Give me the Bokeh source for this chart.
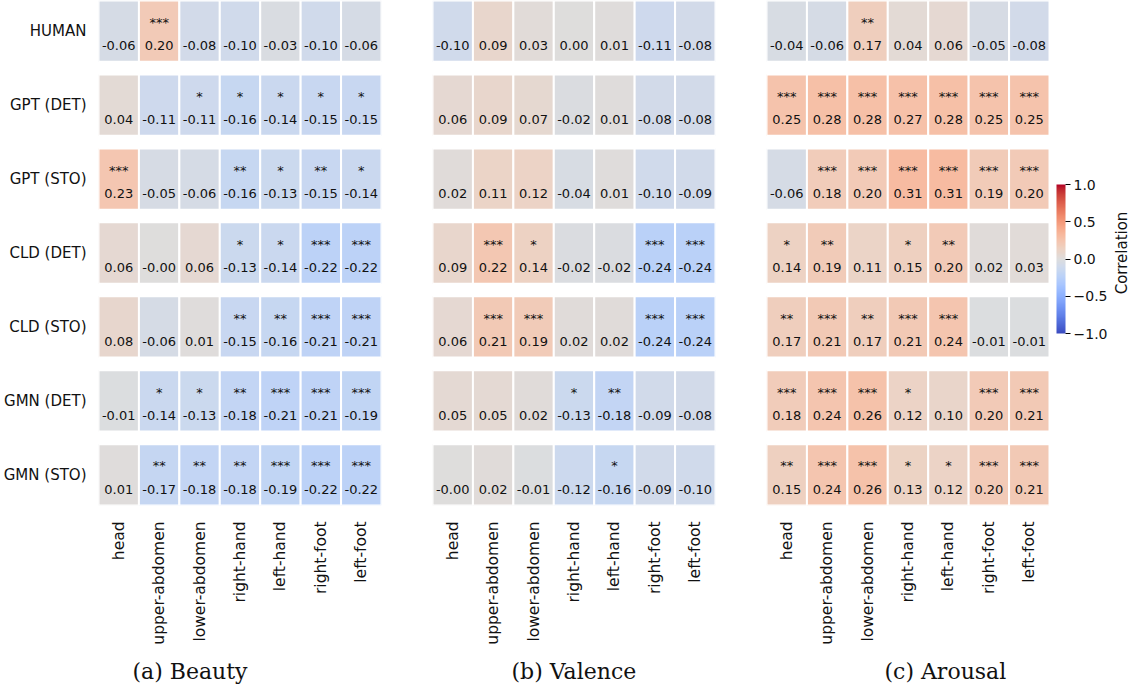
import numpy as np
from math import pi
from bokeh.plotting import figure
from bokeh.models import (FactorRange, LinearColorMapper, ColorBar, FixedTicker,
                          ColumnDataSource, Title, Range1d)
from bokeh.transform import dodge
from bokeh.layouts import row
from bokeh.embed import file_html
from bokeh.resources import INLINE

rows = ["HUMAN", "GPT (DET)", "GPT (STO)", "CLD (DET)", "CLD (STO)", "GMN (DET)", "GMN (STO)"]
cols = ["head", "upper-abdomen", "lower-abdomen", "right-hand", "left-hand", "right-foot", "left-foot"]

beauty = [
    [-0.06, 0.20, -0.08, -0.10, -0.03, -0.10, -0.06],
    [0.04, -0.11, -0.11, -0.16, -0.14, -0.15, -0.15],
    [0.23, -0.05, -0.06, -0.16, -0.13, -0.15, -0.14],
    [0.06, -0.0, 0.06, -0.13, -0.14, -0.22, -0.22],
    [0.08, -0.06, 0.01, -0.15, -0.16, -0.21, -0.21],
    [-0.01, -0.14, -0.13, -0.18, -0.21, -0.21, -0.19],
    [0.01, -0.17, -0.18, -0.18, -0.19, -0.22, -0.22],
]
beauty_sig = [
    ["", "***", "", "", "", "", ""],
    ["", "", "*", "*", "*", "*", "*"],
    ["***", "", "", "**", "*", "**", "*"],
    ["", "", "", "*", "*", "***", "***"],
    ["", "", "", "**", "**", "***", "***"],
    ["", "*", "*", "**", "***", "***", "***"],
    ["", "**", "**", "**", "***", "***", "***"],
]
valence = [
    [-0.10, 0.09, 0.03, 0.00, 0.01, -0.11, -0.08],
    [0.06, 0.09, 0.07, -0.02, 0.01, -0.08, -0.08],
    [0.02, 0.11, 0.12, -0.04, 0.01, -0.10, -0.09],
    [0.09, 0.22, 0.14, -0.02, -0.02, -0.24, -0.24],
    [0.06, 0.21, 0.19, 0.02, 0.02, -0.24, -0.24],
    [0.05, 0.05, 0.02, -0.13, -0.18, -0.09, -0.08],
    [-0.0, 0.02, -0.01, -0.12, -0.16, -0.09, -0.10],
]
valence_sig = [
    ["", "", "", "", "", "", ""],
    ["", "", "", "", "", "", ""],
    ["", "", "", "", "", "", ""],
    ["", "***", "*", "", "", "***", "***"],
    ["", "***", "***", "", "", "***", "***"],
    ["", "", "", "*", "**", "", ""],
    ["", "", "", "", "*", "", ""],
]
arousal = [
    [-0.04, -0.06, 0.17, 0.04, 0.06, -0.05, -0.08],
    [0.25, 0.28, 0.28, 0.27, 0.28, 0.25, 0.25],
    [-0.06, 0.18, 0.20, 0.31, 0.31, 0.19, 0.20],
    [0.14, 0.19, 0.11, 0.15, 0.20, 0.02, 0.03],
    [0.17, 0.21, 0.17, 0.21, 0.24, -0.01, -0.01],
    [0.18, 0.24, 0.26, 0.12, 0.10, 0.20, 0.21],
    [0.15, 0.24, 0.26, 0.13, 0.12, 0.20, 0.21],
]
arousal_sig = [
    ["", "", "**", "", "", "", ""],
    ["***", "***", "***", "***", "***", "***", "***"],
    ["", "***", "***", "***", "***", "***", "***"],
    ["*", "**", "", "*", "**", "", ""],
    ["**", "***", "**", "***", "***", "", ""],
    ["***", "***", "***", "*", "", "***", "***"],
    ["**", "***", "***", "*", "*", "***", "***"],
]
captions = ["(a) Beauty", "(b) Valence", "(c) Arousal"]
cbar_title = "Correlation"
cbar_ticks = [-1.0, -0.5, 0.0, 0.5, 1.0]
cbar_labels = ["\u22121.0", "\u22120.5", "0.0", "0.5", "1.0"]

# coolwarm (Moreland) reference colours
CW = [(59, 76, 192), (68, 90, 204), (77, 104, 215), (87, 117, 225), (98, 130, 234),
      (108, 142, 241), (119, 154, 247), (130, 165, 251), (141, 176, 254), (152, 185, 255),
      (163, 194, 255), (174, 201, 253), (184, 208, 249), (194, 213, 244), (204, 217, 238),
      (213, 219, 230), (221, 221, 221), (229, 216, 209), (236, 211, 197), (241, 204, 185),
      (245, 196, 173), (247, 187, 160), (247, 177, 148), (247, 166, 135), (244, 154, 123),
      (241, 141, 111), (236, 127, 99), (229, 112, 88), (222, 96, 77), (213, 80, 66),
      (203, 62, 56), (192, 40, 47), (180, 4, 38)]
arr = np.array(CW, float)
tk = np.linspace(0, 1, len(CW))
tt = np.linspace(0, 1, 256)
palette = ["#%02x%02x%02x" % tuple(int(round(np.interp(t, tk, arr[:, k]))) for k in range(3)) for t in tt]
mapper = LinearColorMapper(palette=palette, low=-1, high=1)

CELL_H = 0.83
FONT = "DejaVu Sans"
INK = "#111111"
NR = len(rows)
row_pos = {r: NR - 1 - i for i, r in enumerate(rows)}   # top row highest


def make_panel(vals, sigs, caption, show_y, min_left, min_right, cap_offset):
    xs, ys, vs, ts, ss = [], [], [], [], []
    for i, r in enumerate(rows):
        for j, c in enumerate(cols):
            xs.append(c)
            ys.append(row_pos[r])
            vs.append(vals[i][j])
            ts.append(f"{vals[i][j]:.2f}")
            ss.append(sigs[i][j])
    src = ColumnDataSource(dict(x=xs, y=ys, v=vs, t=ts, s=ss))
    yr = Range1d(-CELL_H / 2, NR - 1 + CELL_H / 2)
    p = figure(x_range=FactorRange(factors=cols), y_range=yr,
               frame_width=283, frame_height=505,
               min_border_left=min_left, min_border_right=min_right,
               min_border_top=0, min_border_bottom=0,
               toolbar_location=None, tools="", output_backend="svg")
    p.rect(x="x", y="y", width=1, height=CELL_H, source=src,
           fill_color={"field": "v", "transform": mapper},
           line_color="white", line_width=2)
    p.text(x="x", y=dodge("y", -0.195), text="t", source=src,
           text_align="center", text_baseline="alphabetic",
           text_font_size="13px", text_color=INK, text_font={"value": FONT})
    p.text(x="x", y=dodge("y", 0.12), text="s", source=src,
           text_align="center", text_baseline="alphabetic",
           text_font_size="13px", text_color=INK, text_font={"value": FONT})
    p.grid.visible = False
    p.outline_line_color = None
    p.background_fill_color = "white"
    p.border_fill_color = "white"

    ax = p.xaxis[0]
    ax.major_label_orientation = pi / 2
    ax.major_label_text_font = FONT
    ax.major_label_text_font_size = "15.5px"
    ax.major_label_text_color = INK
    ax.major_label_standoff = 10
    ax.axis_line_color = None
    ax.major_tick_line_color = None
    ax.minor_tick_line_color = None

    ay = p.yaxis[0]
    if show_y:
        ay.ticker = FixedTicker(ticks=[row_pos[r] for r in rows])
        ay.major_label_overrides = {row_pos[r]: r for r in rows}
        ay.major_label_text_font = FONT
        ay.major_label_text_font_size = "15px"
        ay.major_label_text_color = INK
        ay.major_label_standoff = 6
        ay.axis_line_color = None
        ay.major_tick_line_color = None
        ay.minor_tick_line_color = None
    else:
        ay.visible = False

    p.add_layout(Title(text=caption, align="left", offset=cap_offset,
                       text_font="DejaVu Serif", text_font_size="22px",
                       text_font_style="normal", text_color=INK, standoff=18), "below")
    return p


pa = make_panel(beauty, beauty_sig, captions[0], True, 91, 26, 34)
pb = make_panel(valence, valence_sig, captions[1], False, 25, 26, 79)
pc = make_panel(arousal, arousal_sig, captions[2], False, 25, 0, 118)

# colour bar drawn inside a small frame at a fixed screen position
pk = figure(x_range=Range1d(0, 1), y_range=Range1d(0, 1),
            frame_width=60, frame_height=505, x_axis_location=None, y_axis_location=None,
            min_border_left=0, min_border_right=0, min_border_top=0, min_border_bottom=0,
            toolbar_location=None, tools="", output_backend="svg")
pk.grid.visible = False
pk.outline_line_color = None
cb = ColorBar(color_mapper=mapper, ticker=FixedTicker(ticks=cbar_ticks),
              major_label_overrides={t: l for t, l in zip(cbar_ticks, cbar_labels)},
              width=9, height=149, location=(7, 172), padding=0, margin=0,
              major_tick_out=5, major_tick_in=0, major_tick_line_color="black",
              major_tick_line_width=1, bar_line_color=None, label_standoff=3,
              major_label_text_font=FONT, major_label_text_font_size="14px",
              major_label_text_color=INK, background_fill_color=None)
pk.add_layout(cb, "center")

# label of the colour bar as a left axis label (reads bottom to top)
pl = figure(x_range=Range1d(0, 1), y_range=Range1d(-1, 1),
            frame_width=1, frame_height=505, x_axis_location=None,
            min_border_left=0, min_border_right=0, min_border_top=0, min_border_bottom=0,
            toolbar_location=None, tools="", output_backend="svg")
pl.grid.visible = False
pl.outline_line_color = None
ky = pl.yaxis[0]
ky.axis_label = cbar_title
ky.axis_label_standoff = 0
ky.axis_label_text_font = FONT
ky.axis_label_text_font_size = "15px"
ky.axis_label_text_font_style = "normal"
ky.axis_label_text_color = INK
ky.ticker = FixedTicker(ticks=[])
ky.axis_line_color = None
ky.major_tick_line_color = None
ky.minor_tick_line_color = None
ky.major_label_text_color = None

layout = row(pa, pb, pc, pk, pl)
open("out.html", "w").write(file_html(layout, INLINE))
